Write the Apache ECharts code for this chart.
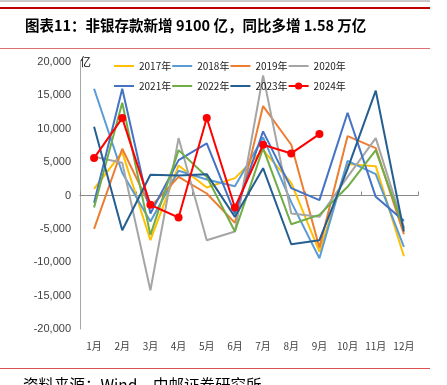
<!DOCTYPE html>
<html><head><meta charset="utf-8">
<script src="https://cdn.jsdelivr.net/npm/echarts@6/dist/echarts.min.js"></script>
<style>html,body{margin:0;padding:0;background:#fff}#c{width:447px;height:385px}</style>
</head><body><div id="c"></div>
<script>
const months = ['1月','2月','3月','4月','5月','6月','7月','8月','9月','10月','11月','12月'];
const yTicks = [-20000,-15000,-10000,-5000,0,5000,10000,15000,20000];
const s2017 = [1000, 6500, -6700, 4500, 1200, 2600, 6800, 1900, -8400, 4700, 4400, -9100];
const s2018 = [16000, 3400, -3900, 3700, 2400, 1400, 8700, -1000, -9400, 5200, 3200, -7700];
const s2019 = [-5000, 7000, -1700, 2800, 300, -4100, 13400, 7600, -7800, 8900, 7100, -5800];
const s2020 = [5800, 4900, -14200, 8600, -6700, -5400, 18000, -2700, -3200, 2800, 8600, -4800];
const s2021 = [-1100, 16000, -2700, 5300, 7800, -2700, 9600, 1100, -700, 12400, -200, -3800];
const s2022 = [-1800, 13900, -5900, 6800, 2800, -5400, 7100, -4300, -2900, 1300, 6800, -5000];
const s2023 = [10300, -5200, 3100, 3000, 3200, -3200, 4100, -7300, -6700, 4000, 15700, -5400];
const s2024 = [5600, 11600, -1400, -3300, 11600, -1800, 7600, 6300, 9200];
const names = ['2017年','2018年','2019年','2020年','2021年','2022年','2023年','2024年'];
const colors = ['#FFC000','#5B9BD5','#ED7D31','#A5A5A5','#4472C4','#70AD47','#255E91','#FF0000'];
const allData = [s2017,s2018,s2019,s2020,s2021,s2022,s2023,s2024];

const chart = echarts.init(document.getElementById('c'), null, {renderer:'canvas'});
const series = allData.map((d,i)=>({
  name: names[i], type:'line', data:d, xAxisIndex:0,
  symbol: i===7 ? 'circle' : 'none', symbolSize: 8, showSymbol: i===7,
  lineStyle:{width:2, color:colors[i]}, itemStyle:{color:colors[i]},
  z: i===7 ? 10 : 2, animation:false
}));
const legendData = names.map((n,i)=> i===7 ? {name:n} : {name:n, itemStyle:{color:'rgba(0,0,0,0)', borderWidth:0}});
const fmt = v => v.toString().replace(/\B(?=(\d{3})+(?!\d))/g, ',');
chart.setOption({
  animation:false,
  color: colors,
  grid:{left:80, right:29, top:62, bottom:56},
  legend:{
    data:legendData, left:113, top:56, width:245, padding:0,
    itemWidth:20, itemHeight:9, itemGap:0,
    textStyle:{fontSize:10, color:'#222', fontFamily:'Noto Sans CJK SC', lineHeight:20}
  },
  xAxis:[
    {type:'category', data:months, boundaryGap:true,
     axisLine:{show:false, onZero:false}, axisTick:{show:false},
     axisLabel:{fontSize:10, color:'#404040', margin:12, fontFamily:'Noto Sans CJK SC'}, position:'bottom'},
    {type:'category', data:months, boundaryGap:true,
     axisLine:{show:true, onZero:true, lineStyle:{color:'#898989', width:1}},
     axisTick:{show:true, length:4, lineStyle:{color:'#898989'}}, axisLabel:{show:false}}
  ],
  yAxis:{type:'value', min:-20000, max:20000, interval:5000,
    name:'亿', nameLocation:'end', nameGap:0,
    nameTextStyle:{fontSize:11, color:'#000', align:'left', verticalAlign:'middle', fontFamily:'Noto Sans CJK SC'},
    axisLine:{show:true, lineStyle:{color:'#A6A6A6'}}, axisTick:{show:false},
    splitLine:{show:false},
    axisLabel:{fontSize:11, color:'#404040', margin:9, formatter:fmt, fontFamily:'Liberation Sans'}},
  series: series,
  graphic:[
    {type:'rect', shape:{x:0,y:0,width:430,height:2}, style:{fill:'#c8c8c8'}},
    {type:'rect', shape:{x:0,y:7,width:430,height:2}, style:{fill:'#C00000'}},
    {type:'text', x:25, y:25, style:{text:'图表11：非银存款新增 9100 亿，同比多增 1.58 万亿', font:'bold 14.5px "Noto Sans CJK SC"', fill:'#000', textVerticalAlign:'middle'}},
    {type:'rect', shape:{x:0,y:48,width:430,height:1}, style:{fill:'#E07070'}},
    {type:'rect', shape:{x:0,y:368,width:430,height:1}, style:{fill:'#E05050'}},
    {type:'text', x:23, y:377, style:{text:'资料来源：Wind，中邮证券研究所', font:'15.5px "Noto Sans CJK SC"', fill:'#000', textVerticalAlign:'top'}}
  ]
});
</script></body></html>
